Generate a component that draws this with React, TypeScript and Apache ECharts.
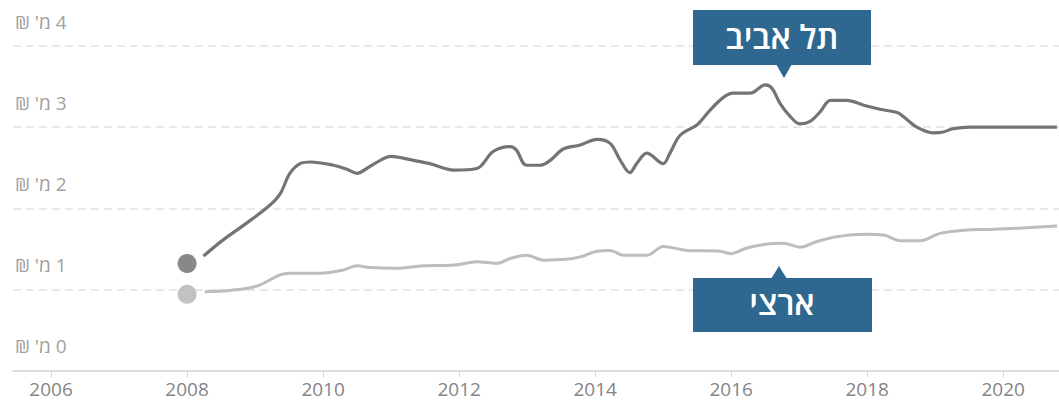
import React, { useEffect, useRef } from "react";
import * as echarts from "echarts";

const yearTicks = [2006, 2008, 2010, 2012, 2014, 2016, 2018, 2020];
const yTickValues = [0, 1, 2, 3, 4];
const yTickLabels = ["0 מ' ₪", "1 מ' ₪", "2 מ' ₪", "3 מ' ₪", "4 מ' ₪"];

const telAvivLabel = "תל אביב";
const nationalLabel = "ארצי";

// [year, price in millions ₪]
const telAviv: [number, number][] = [
  [2008.24, 1.41], [2008.53, 1.61], [2008.88, 1.82], [2009.22, 2.04], [2009.37, 2.18],
  [2009.51, 2.43], [2009.66, 2.55], [2009.81, 2.57], [2010.15, 2.53], [2010.35, 2.48],
  [2010.5, 2.43], [2010.64, 2.49], [2010.84, 2.59], [2010.99, 2.64], [2011.28, 2.6],
  [2011.57, 2.55], [2011.92, 2.47], [2012.26, 2.49], [2012.5, 2.7], [2012.75, 2.76],
  [2012.84, 2.72], [2012.99, 2.53], [2013.19, 2.53], [2013.34, 2.59], [2013.53, 2.73],
  [2013.78, 2.78], [2014.03, 2.85], [2014.22, 2.8], [2014.37, 2.59], [2014.51, 2.44],
  [2014.61, 2.55], [2014.76, 2.68], [2015.0, 2.55], [2015.1, 2.68], [2015.25, 2.9],
  [2015.5, 3.03], [2015.69, 3.21], [2015.89, 3.37], [2016.03, 3.42], [2016.28, 3.42],
  [2016.5, 3.52], [2016.6, 3.48], [2016.72, 3.29], [2016.87, 3.13], [2017.01, 3.04],
  [2017.16, 3.07], [2017.31, 3.19], [2017.46, 3.33], [2017.7, 3.33], [2017.95, 3.27],
  [2018.19, 3.22], [2018.44, 3.18], [2018.53, 3.13], [2018.73, 3.0], [2018.97, 2.93],
  [2019.12, 2.94], [2019.26, 2.98], [2019.51, 3.0], [2020.0, 3.0], [2020.79, 3.0],
];

const national: [number, number][] = [
  [2008.26, 0.97], [2008.98, 1.03], [2009.37, 1.18], [2009.51, 1.2], [2009.96, 1.2],
  [2010.3, 1.24], [2010.5, 1.29], [2010.69, 1.27], [2011.08, 1.26], [2011.47, 1.29],
  [2011.94, 1.3], [2012.26, 1.34], [2012.55, 1.32], [2012.75, 1.38], [2012.99, 1.42],
  [2013.24, 1.36], [2013.58, 1.37], [2013.78, 1.4], [2014.03, 1.47], [2014.22, 1.48],
  [2014.42, 1.42], [2014.76, 1.42], [2015.0, 1.53], [2015.35, 1.48], [2015.84, 1.47],
  [2015.99, 1.44], [2016.23, 1.51], [2016.53, 1.56], [2016.77, 1.57], [2017.01, 1.52],
  [2017.26, 1.59], [2017.55, 1.65], [2017.99, 1.68], [2018.24, 1.67], [2018.49, 1.6],
  [2018.78, 1.6], [2019.07, 1.69], [2019.42, 1.73], [2019.86, 1.74], [2020.79, 1.78],
];

const telAvivStart: [number, number][] = [[2008, 1.32]];
const nationalStart: [number, number][] = [[2008, 0.94]];

const FONT = "'Open Sans', 'DejaVu Sans', sans-serif";
const BOX = "#2e6890";

export default function App() {
  const ref = useRef<HTMLDivElement>(null);

  useEffect(() => {
    if (!ref.current) return;
    const chart = echarts.init(ref.current, undefined, { renderer: "svg" });
    const boxText = (text: string, x: number, y: number) => ({
      type: "text",
      x,
      y,
      z: 102,
      style: {
        text,
        fill: "#ffffff",
        fontSize: 33,
        fontWeight: 600,
        fontFamily: FONT,
        align: "center",
        verticalAlign: "middle",
      },
    });
    chart.setOption({
      animation: false,
      backgroundColor: "#ffffff",
      grid: { left: 13, right: 0, top: 46, bottom: 30.5, containLabel: false },
      xAxis: {
        type: "value",
        min: 2005.44,
        max: 2020.82,
        axisLine: { show: true, lineStyle: { color: "#dcdcdc", width: 2 } },
        axisTick: {
          show: true,
          customValues: yearTicks,
          length: 7,
          lineStyle: { color: "#d8d8d8", width: 1 },
        },
        axisLabel: {
          customValues: yearTicks,
          formatter: (v: number) => String(v),
          color: "#858585",
          fontSize: 19,
          fontFamily: FONT,
          margin: 9,
        },
        splitLine: { show: false },
      },
      yAxis: {
        type: "value",
        min: 0,
        max: 4,
        interval: 1,
        axisLine: { show: false },
        axisTick: { show: false },
        axisLabel: {
          inside: true,
          margin: 2,
          verticalAlign: "bottom",
          padding: [0, 0, 15, 0],
          color: "#a0a0a0",
          fontSize: 19,
          fontFamily: FONT,
          formatter: (v: number) => {
            const i = yTickValues.indexOf(v);
            return "\u202B" + (i >= 0 ? yTickLabels[i] : String(v)) + "\u202C";
          },
        },
        splitLine: {
          show: true,
          lineStyle: { color: "#e2e2e2", type: [8, 5], width: 1.5 },
        },
      },
      series: [
        {
          type: "line",
          name: telAvivLabel,
          data: telAviv,
          smooth: 0.35,
          showSymbol: false,
          lineStyle: { color: "#747474", width: 3.2 },
          z: 3,
        },
        {
          type: "line",
          name: nationalLabel,
          data: national,
          smooth: 0.35,
          showSymbol: false,
          lineStyle: { color: "#bdbdbd", width: 3 },
          z: 2,
        },
        {
          type: "scatter",
          data: telAvivStart,
          symbolSize: 19,
          itemStyle: { color: "#6a6a6a" },
          z: 4,
        },
        {
          type: "scatter",
          data: nationalStart,
          symbolSize: 19,
          itemStyle: { color: "#b3b3b3" },
          z: 4,
        },
      ],
      graphic: [
        { type: "rect", z: 100, shape: { x: 693, y: 10, width: 178, height: 55 }, style: { fill: BOX } },
        { type: "polygon", z: 100, shape: { points: [[776, 64], [792, 64], [784, 78]] }, style: { fill: BOX } },
        boxText(telAvivLabel, 782, 36),
        { type: "rect", z: 100, shape: { x: 693, y: 278, width: 179, height: 54 }, style: { fill: BOX } },
        { type: "polygon", z: 100, shape: { points: [[771, 279], [787, 279], [779, 266]] }, style: { fill: BOX } },
        boxText(nationalLabel, 782, 302),
      ],
    });
    return () => chart.dispose();
  }, []);

  return (
    <div
      ref={ref}
      style={{ position: "absolute", left: 0, top: 0, width: 1059, height: 401 }}
    />
  );
}
